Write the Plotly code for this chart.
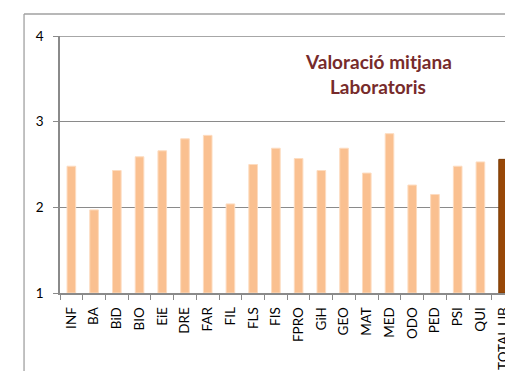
import plotly.graph_objects as go

# Laboratory ratings per faculty/degree (scale 1-4)
categories = ["INF", "BA", "BiD", "BIO", "EiE", "DRE", "FAR", "FIL", "FLS", "FIS",
              "FPRO", "GiH", "GEO", "MAT", "MED", "ODO", "PED", "PSI", "QUI", "TOTAL UB"]
ratings = [2.48, 1.97, 2.43, 2.59, 2.66, 2.80, 2.84, 2.04, 2.50, 2.69,
           2.57, 2.43, 2.69, 2.40, 2.86, 2.26, 2.15, 2.48, 2.53, 2.56]
y_ticks = [1, 2, 3, 4]

LIGHT = "#FAC090"
DARK = "#984807"
GRID = "#8A8A8A"

W, H = 521, 371
ML, MR, MT, MB = 60, 15.5, 36, 78
plot_w = W - ML - MR
plot_h = H - MT - MB


def px_x(p):
    return (p - ML) / plot_w


def px_y(p):
    return (H - MB - p) / plot_h


colors = [DARK if c == "TOTAL UB" else LIGHT for c in categories]
edge = ["#7A3905" if c == "TOTAL UB" else "#FDDCC0" for c in categories]

fig = go.Figure(go.Bar(
    x=categories,
    y=[v - 1 for v in ratings],
    base=1,
    marker=dict(color=colors, line=dict(color=edge, width=1)),
    width=0.38,
    hoverinfo="skip",
))

cat_px = 22.75
fig.update_layout(
    width=W, height=H,
    margin=dict(l=ML, r=MR, t=MT, b=MB, pad=0),
    paper_bgcolor="white",
    plot_bgcolor="white",
    showlegend=False,
    font=dict(family="Lato", size=13, color="#000000"),
    xaxis=dict(
        type="category",
        automargin=False,
        range=[-0.5, -0.5 + plot_w / cat_px],
        showline=True, linecolor=GRID, linewidth=1.5,
        ticks="outside", ticklen=5, tickcolor=GRID, tickwidth=1.2,
        tickson="boundaries",
        tickangle=-90,
        ticklabelstandoff=7,
        showgrid=False,
        tickfont=dict(family="Lato", size=13.5, color="#000000"),
    ),
    yaxis=dict(
        automargin=False,
        range=[1, 4],
        tickvals=y_ticks,
        ticktext=[str(t) for t in y_ticks],
        showline=True, linecolor=GRID, linewidth=1.5,
        ticks="outside", ticklen=5, tickcolor=GRID, tickwidth=1.2,
        ticklabelstandoff=7,
        showgrid=True, gridcolor=GRID, gridwidth=1.4,
        zeroline=False,
        tickfont=dict(family="Lato", size=13.5, color="#000000"),
    ),
)

# Gridline at the top of the value range (Plotly skips gridlines on the edge)
fig.add_shape(type="line", xref="paper", yref="y",
              x0=0, x1=1, y0=y_ticks[-1], y1=y_ticks[-1],
              line=dict(color=GRID, width=1.4), layer="below")

# Chart title, two lines
title_color = "#772B2B"
for text, yc in [("Valoració mitjana", 61), ("Laboratoris", 86)]:
    fig.add_annotation(
        text="<b>%s</b>" % text,
        xref="paper", yref="paper",
        x=px_x(378.5), y=px_y(yc),
        xanchor="center", yanchor="middle",
        showarrow=False,
        font=dict(family="Lato", size=19, color=title_color),
    )

# Outer chart frame (left and top edges)
border = dict(color="#A0A0A0", width=1.3)
fig.add_shape(type="line", xref="paper", yref="paper",
              x0=px_x(24), x1=px_x(24), y0=px_y(14), y1=px_y(H + 5),
              line=border, layer="below")
fig.add_shape(type="line", xref="paper", yref="paper",
              x0=px_x(24), x1=1, y0=px_y(14), y1=px_y(14),
              line=border, layer="below")

# Right edge of the frame trims the last label
fig.add_shape(type="rect", xref="paper", yref="paper",
              x0=1, x1=px_x(W + 10), y0=px_y(H + 10), y1=px_y(-10),
              fillcolor="white", line=dict(width=0), layer="above")

fig.write_html("out.html")
